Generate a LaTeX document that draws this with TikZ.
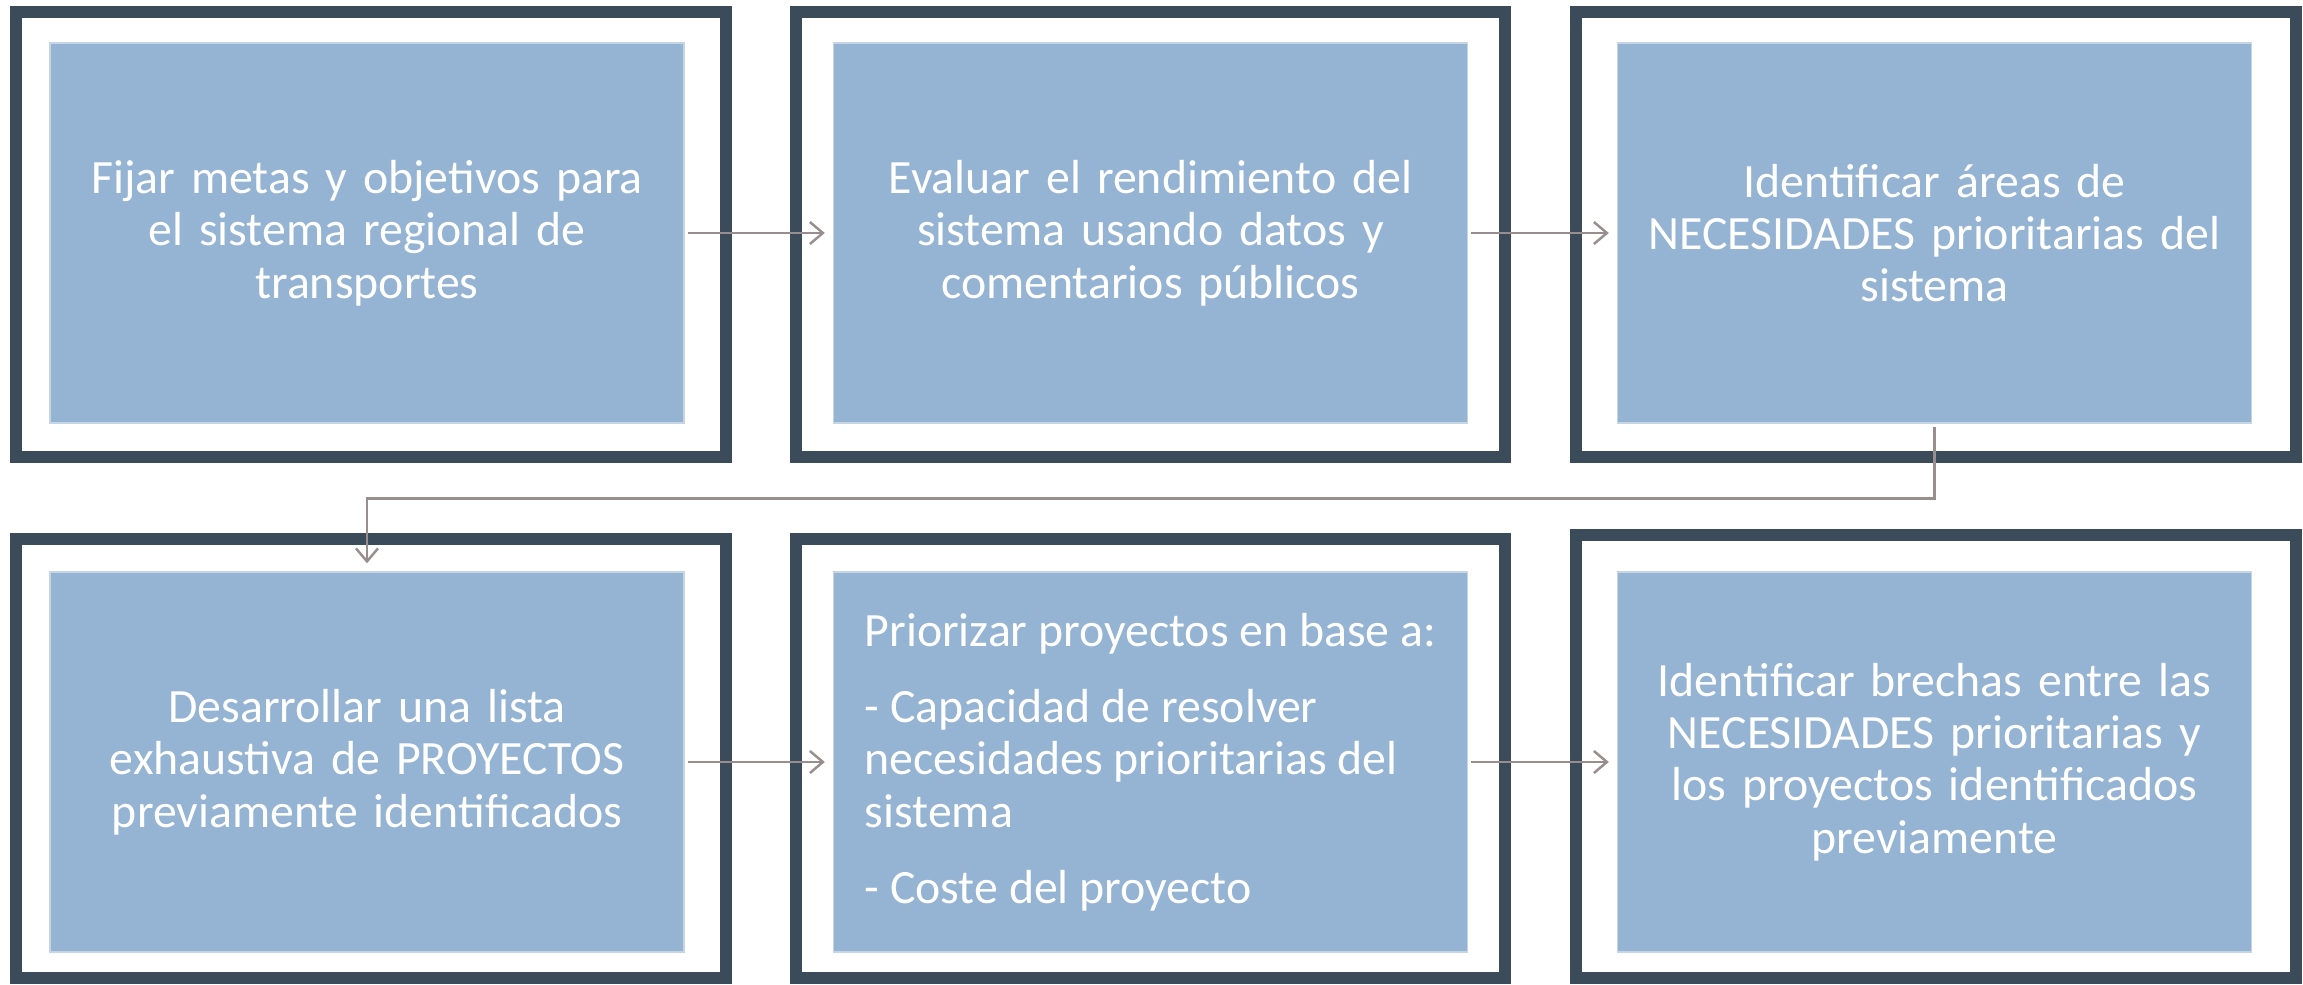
\documentclass[tikz,border=0pt]{standalone}
\usepackage{fontspec}
\setmainfont{Carlito}
\usetikzlibrary{arrows.meta, positioning}

\definecolor{framegray}{RGB}{59,75,90}
\definecolor{stepblue}{RGB}{149,179,210}
\definecolor{linkgray}{RGB}{152,142,142}

\tikzset{
	outerframe/.style={draw=framegray, line width=0.12cm, minimum width=7.10cm, minimum height=4.45cm, inner sep=0pt},
	stepbox/.style={fill=stepblue, draw=stepblue!55!white, line width=0.4pt, minimum width=6.34cm, minimum height=3.80cm, text width=6.0cm, inner sep=0.17cm, align=center, text=white, font=\fontsize{13.6pt}{14.9pt}\selectfont},
	link/.style={draw=linkgray, line width=0.7pt, -{Straight Barb[length=1.3mm,width=2.2mm]}, shorten <=0.03cm, shorten >=0.08cm}
}

\begin{document}
\begin{tikzpicture}
				\useasboundingbox (0,0) rectangle (23.03,-9.84);

				% Outer frames
				\node[outerframe] (f1) at (3.71,-2.345) {};
				\node[outerframe, minimum width=7.09cm] (f2) at (11.505,-2.345) {};
				\node[outerframe, minimum width=7.20cm] (f3) at (19.36,-2.345) {};
				\node[outerframe, minimum height=4.39cm] (f4) at (3.71,-7.585) {};
				\node[outerframe, minimum width=7.09cm, minimum height=4.39cm] (f5) at (11.505,-7.585) {};
				\node[outerframe, minimum width=7.20cm, minimum height=4.43cm] (f6) at (19.36,-7.565) {};

				% Row one
				\node[stepbox] (b1) at (3.67,-2.33) {Fijar metas y objetivos para\\ el sistema regional de\\ transportes};
				\node[stepbox] (b2) at (11.505,-2.33) {Evaluar el rendimiento del\\ sistema usando datos y\\ comentarios públicos};
				\node[stepbox] (b3) at (19.345,-2.33) {Identificar áreas de\\ NECESIDADES prioritarias del\\ sistema};

				% Row two
				\node[stepbox] (b4) at (3.67,-7.62) {Desarrollar una lista\\ exhaustiva de PROYECTOS\\ previamente identificados};
				\node[stepbox, align=left, text width=] (b5) at (11.505,-7.62) {Priorizar proyectos en base a:\\[0.24cm] - Capacidad de resolver\\ necesidades prioritarias del\\ sistema\\[0.24cm] - Coste del proyecto};
				\node[stepbox] (b6) at (19.345,-7.62) {Identificar brechas entre las\\ NECESIDADES prioritarias y\\ los proyectos identificados\\ previamente};

				% Connectors
				\draw[link] (b1.east) -- (b2.west);
				\draw[link] (b2.east) -- (b3.west);
				\draw[link] (b3.south) -- ++(0,-0.75) -| (b4.north);
				\draw[link] (b4.east) -- (b5.west);
				\draw[link] (b5.east) -- (b6.west);
\end{tikzpicture}
\end{document}
